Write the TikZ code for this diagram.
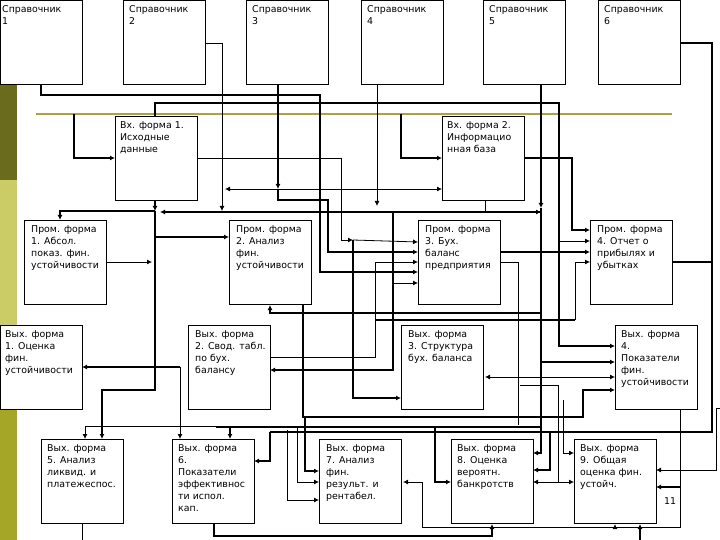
\documentclass[tikz,border=0pt]{standalone}
\usepackage{fontspec}
\setmainfont{DejaVu Sans}
\usetikzlibrary{arrows.meta}
\definecolor{stripA}{RGB}{107,107,30}
\definecolor{stripB}{RGB}{204,204,102}
\definecolor{stripC}{RGB}{165,165,40}
\definecolor{goldline}{RGB}{176,160,64}
\begin{document}
\begin{tikzpicture}[x=1pt,y=-1pt,
  box/.style={draw,line width=0.8pt,minimum width=82pt,minimum height=84pt,anchor=north west,inner sep=0pt,outer sep=0pt,fill=white},
  txt/.style={anchor=north west,align=left,inner sep=0pt,font=\fontsize{9.4}{12}\selectfont},
  T/.style={line width=1.7pt},
  t/.style={line width=0.8pt},
  a/.style={-{Latex[length=5pt,width=5pt]}},
  ab/.style={{Latex[length=5pt,width=5pt]}-{Latex[length=5pt,width=5pt]}}]
\useasboundingbox (0,0) rectangle (720,540);
\fill[white] (0,0) rectangle (720,540);
\fill[stripA] (0,0) rectangle (17,180);
\fill[stripB] (0,180) rectangle (17,360);
\fill[stripC] (0,360) rectangle (17,540);
\draw[line width=1.6pt,color=goldline] (36,114) -- (672,114);
% boxes
\node[box] (s1) at (0,0) {};   \node[txt] at (2,5) {Справочник\\1};
\node[box] (s2) at (123,0) {}; \node[txt] at (129,5) {Справочник\\2};
\node[box] (s3) at (246,0) {}; \node[txt] at (252,5) {Справочник\\3};
\node[box] (s4) at (361,0) {}; \node[txt] at (367,5) {Справочник\\4};
\node[box] (s5) at (483,0) {}; \node[txt] at (489,5) {Справочник\\5};
\node[box] (s6) at (598,0) {}; \node[txt] at (604,5) {Справочник\\6};
% connectors
\draw[T,a] (s1.south -| 41,0) -- (41,95) -- (320,95) -- (320,272) -- (418,272);
\draw[t,a] (s2.east |- 0,43) -- (222,43) -- (222,211);
\draw[T,a] (s3.south -| 278,0) -- (278,189);
\draw[T,a] (278,189) -- (278,200) -- (328,200) -- (328,252) -- (418,252);
\draw[t,a] (278,189) -- (225,189);
\draw[t,a] (278,189) -- (442,189);
\draw[T,a] (155,116) -- (155,103) -- (559,103) -- (559,346) -- (615,346);
\draw[T,a] (74,114) -- (74,158) -- (115,158);
\draw[T,a] (401,114) -- (401,158) -- (442,158);
\draw[t,a] (197,158) -- (341,158) -- (341,240) -- (353,240);
\draw[t,a] (353,240) -- (418,242);
\draw[T,a] (353,240) -- (353,398) -- (401,398);
\draw[T,a] (155,199) -- (155,211);
\draw[T,a] (155,211) -- (155,390) -- (102,390) -- (102,439);
\draw[T,a] (155,211) -- (60,211) -- (60,220);
\draw[T,a] (541,212) -- (160,212);
\draw[T,a] (155,237) -- (229,237);
\draw[t,a] (106,262) -- (152,262);
\draw[T,a] (180,367) -- (82,367);
\draw[t,a] (155,367) -- (180,367) -- (180,439);
\draw[t,a] (377,85) -- (377,206);
\draw[t,a] (485,199) -- (485,212) -- (541,212);
\draw[T,a] (393,212) -- (393,370) -- (270,370);
\draw[t,a] (393,283) -- (418,283);
\draw[T,a] (541,85) -- (541,208);
\draw[T,a] (541,208) -- (541,362) -- (615,362);
\draw[T,a] (524,158) -- (572,158) -- (572,230) -- (590,230);
\draw[T,a] (500,252) -- (590,252);
\draw[t,a] (559,241) -- (590,241);
\draw[t,a] (575,320) -- (575,262) -- (590,262);
\draw[T] (575,320) -- (376,320);
\draw[T] (672,262) -- (712,262);
\draw[t,a] (270,357) -- (375,357) -- (375,262) -- (418,262);
\draw[t] (500,262) -- (518,262) -- (518,425);
\draw[t,ab] (485,377) -- (615,377);
\draw[T,a] (303,304) -- (303,417) -- (583,417) -- (583,390) -- (615,390);
\draw[T,a] (541,313) -- (270,313) -- (270,305);
\draw[T] (680,43) -- (712,43) -- (712,432) -- (270,432);
\draw[T,a] (270,432) -- (270,461) -- (254,461);
\draw[t,a] (720,408) -- (716,408) -- (716,470) -- (656,470);
\draw[t] (680,408) -- (680,527) -- (422,527) -- (422,482);
\draw[T,a] (680,487) -- (656,487);
\draw[t,a] (422,482) -- (403,482);
\draw[T,a] (615,527) -- (615,524);
\draw[T,a] (214,523) -- (214,536) -- (492,536) -- (492,524);
\draw[T,a] (640,540) -- (640,524);
\draw[t] (82,523) -- (82,540);
\draw[t,a] (85,426) -- (85,439);
\draw[t] (85,426) -- (297,426);
\draw[t,a] (297,426) -- (297,482) -- (319,482);
\draw[T] (216,427) -- (540,427);
\draw[T,a] (230,427) -- (230,439);
\draw[T,a] (305,417) -- (305,471) -- (319,471);
\draw[t,a] (287,430) -- (287,500) -- (319,500);
\draw[T,a] (435,427) -- (435,482) -- (451,482);
\draw[T,a] (541,362) -- (541,453) -- (533,453);
\draw[T,a] (550,432) -- (550,470) -- (533,470);
\draw[t,a] (520,385) -- (558,385) -- (558,482) -- (533,482);
\draw[t,a] (558,482) -- (574,482);
\draw[t,a] (563,400) -- (563,453) -- (574,453);
% boxes on top
\node[box] (v1) at (115,116) {}; \node[txt] at (120,121) {Вх. форма 1.\\Исходные\\данные};
\node[box] (v2) at (442,116) {}; \node[txt] at (447,121) {Вх. форма 2.\\Информацио\\нная база};
\node[box] (p1) at (24,220) {};  \node[txt] at (31,225) {Пром. форма\\1. Абсол.\\показ. фин.\\устойчивости};
\node[box] (p2) at (229,220) {}; \node[txt] at (236,225) {Пром. форма\\2. Анализ\\фин.\\устойчивости};
\node[box] (p3) at (418,220) {}; \node[txt] at (425,225) {Пром. форма\\3. Бух.\\баланс\\предприятия};
\node[box] (p4) at (590,220) {}; \node[txt] at (597,225) {Пром. форма\\4. Отчет о\\прибылях и\\убытках};
\node[box] (o1) at (0,325) {};   \node[txt] at (5,330) {Вых. форма\\1. Оценка\\фин.\\устойчивости};
\node[box] (o2) at (188,325) {}; \node[txt] at (195,330) {Вых. форма\\2. Свод. табл.\\по бух.\\балансу};
\node[box] (o3) at (401,325) {}; \node[txt] at (408,330) {Вых. форма\\3. Структура\\бух. баланса};
\node[box] (o4) at (615,325) {}; \node[txt] at (621,330) {Вых. форма\\4.\\Показатели\\фин.\\устойчивости};
\node[box] (o5) at (41,439) {};  \node[txt] at (47,444) {Вых. форма\\5. Анализ\\ликвид. и\\платежеспос.};
\node[box] (o6) at (172,439) {}; \node[txt] at (178,444) {Вых. форма\\6.\\Показатели\\эффективнос\\ти испол.\\кап.};
\node[box] (o7) at (319,439) {}; \node[txt] at (326,444) {Вых. форма\\7. Анализ\\фин.\\результ. и\\рентабел.};
\node[box] (o8) at (451,439) {}; \node[txt] at (457,444) {Вых. форма\\8. Оценка\\вероятн.\\банкротств};
\node[box] (o9) at (574,439) {}; \node[txt] at (580,444) {Вых. форма\\9. Общая\\оценка фин.\\устойч.};
\node[txt] (pg) at (664,497) {11};
\end{tikzpicture}
\end{document}
